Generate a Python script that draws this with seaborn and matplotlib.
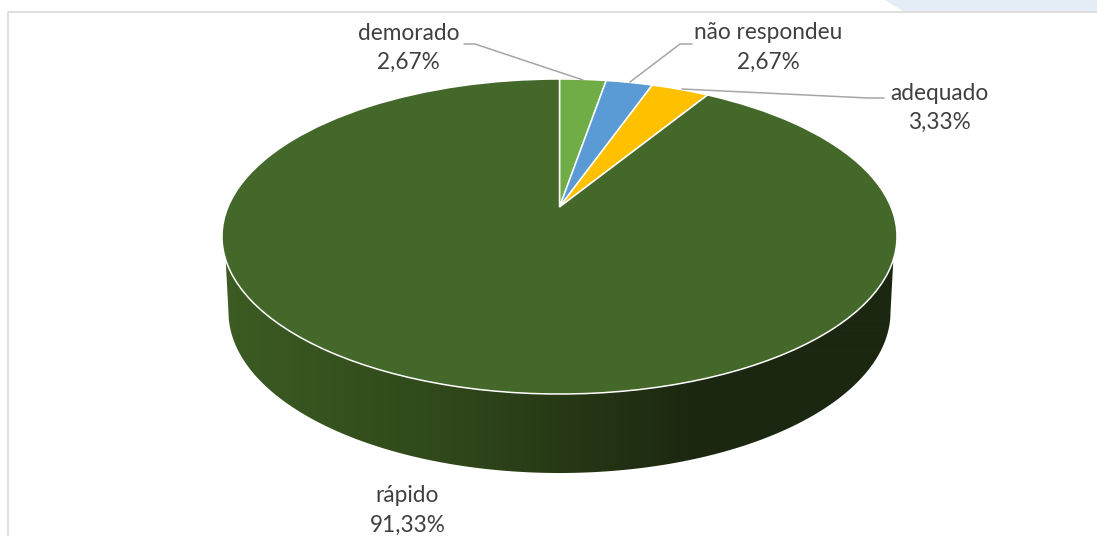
import numpy as np
import matplotlib
matplotlib.use('Agg')
import matplotlib.pyplot as plt
import seaborn as sns
from matplotlib.patches import Polygon
from matplotlib.transforms import Transform

categories = ["demorado", "não respondeu", "adequado", "rápido"]
values = [2.67, 2.67, 3.33, 91.33]
slice_colors = ["#70AD47", "#5B9BD5", "#FFC000", "#44672A"]
wall_colors = ["#3C5C23", "#2F461A", "#1B2710"]

sns.set_theme(style="white")
plt.rcParams['font.family'] = ['Lato', 'DejaVu Sans']


# perspective view of the unit circle, result is in pixels
class PieView(Transform):
    input_dims = 2
    output_dims = 2

    def __init__(self, cx, cy, rx, ry, k):
        super().__init__()
        self.cx = cx
        self.apex = cy - ry * k
        self.a = rx * np.sqrt(1 - k**2)
        self.b = ry * (1 - k**2)
        self.k = k

    def transform_non_affine(self, values):
        pts = np.asarray(values, dtype=float)
        w = 1 + self.k * pts[:, 1]
        return np.column_stack([self.cx + self.a * pts[:, 0] / w,
                                self.apex - self.b * pts[:, 1] / w])


top_view = PieView(559.5, 236.5, 337.5, 157.5, 0.1873)
bottom_view = PieView(559.5, 312, 331, 161, 0.1873)


def arc(start, stop):
    t = np.radians(np.linspace(start, stop, 200))
    return np.column_stack([np.cos(t), np.sin(t)])


fig = plt.figure(figsize=(10.97, 5.36), dpi=100)
ax = fig.add_axes([0, 0, 1, 1])

wedges, _ = ax.pie(values, colors=slice_colors, startangle=90, counterclock=False,
                   wedgeprops={'edgecolor': 'white', 'linewidth': 1.1, 'zorder': 3})
for w in wedges:
    w.set_transform(top_view + ax.transData)

# side of the pie, only the big slice shows at the front
outline = np.vstack([top_view.transform(arc(199, 341)), bottom_view.transform(arc(349, 191))])
wall = Polygon(outline, closed=True, facecolor='none', edgecolor='none')
ax.add_patch(wall)
xs = np.linspace(0, 1097, 1097)
shade = np.clip((xs - 225) / (700 - 225), 0, 1)[None, :]
im = ax.imshow(shade, cmap=sns.blend_palette(wall_colors, as_cmap=True), extent=(0, 1097, 536, 0),
               aspect='auto', zorder=2, interpolation='bilinear')
im.set_clip_path(wall)

# frame and the bit of page background above it
ax.add_patch(Polygon([(885, 0), (903, 11), (1097, 11), (1097, 0)], closed=True,
                     facecolor='#E4ECF5', edgecolor='none', zorder=1))
ax.plot([7.5, 7.5, 1097], [536, 12, 12], color='#D9D9D9', lw=1.2, zorder=1)

# leader lines
line_style = dict(color='#A6A6A6', lw=1.1, zorder=4, solid_joinstyle='miter')
ax.plot([464, 475, 583], [44, 44, 80], **line_style)
ax.plot([692, 680, 630], [44, 44, 82], **line_style)
ax.plot([682, 868, 884], [89, 98, 98], **line_style)

label_pos = [(408.5, 48), (768, 47.5), (939, 108), (407.5, 510.5)]
for name, v, (lx, ly) in zip(categories, values, label_pos):
    pct = f"{v:.2f}".replace('.', ',') + "%"
    ax.text(lx, ly, name + "\n" + pct, ha='center', va='center', fontsize=16.3,
            color='#404040', linespacing=1.5, zorder=5)

ax.set_aspect('auto')
ax.set_xlim(0, 1097)
ax.set_ylim(536, 0)
ax.axis('off')
fig.savefig('out.png', dpi=100)
